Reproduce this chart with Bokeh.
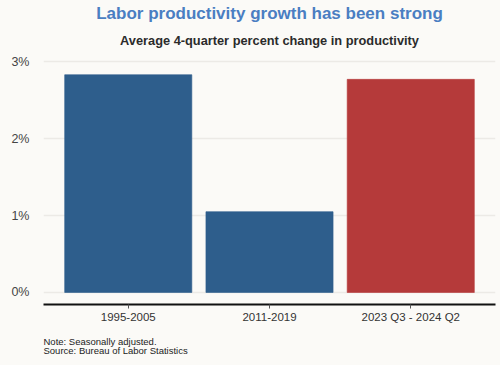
from bokeh.plotting import figure
from bokeh.models import Title, FixedTicker, ColumnDataSource, Range1d
from bokeh.embed import file_html
from bokeh.resources import INLINE

categories = ["1995-2005", "2011-2019", "2023 Q3 - 2024 Q2"]
values = [2.83, 1.05, 2.77]
colors = ["#2E5E8C", "#2E5E8C", "#B53A3A"]
y_ticks = [0, 1, 2, 3]
y_tick_labels = ["0%", "1%", "2%", "3%"]

xs = list(range(len(categories)))
src = ColumnDataSource(dict(x=xs, top=values, color=colors))

BG = "#FBFAF7"
p = figure(width=500, height=365, output_backend="svg", toolbar_location=None,
           x_range=Range1d(-0.6, 2.6), y_range=Range1d(-0.156, 3.08),
           background_fill_color=BG, border_fill_color=BG,
           min_border_left=43, min_border_right=5, min_border_top=55, min_border_bottom=61,
           outline_line_color=None, title=None)

p.vbar(x="x", top="top", bottom=0, width=0.9, source=src, fill_color="color",
       line_color="color", line_alpha=0.6, line_width=1)

# titles (first added is closest to the frame)
sub = Title(text="Average 4-quarter percent change in productivity", align="center",
            text_font="Liberation Sans", text_font_size="12.8px", text_font_style="bold",
            text_color="#2B2B2B", standoff=16)
p.add_layout(sub, "above")
main = Title(text="Labor productivity growth has been strong", align="center",
             text_font="Liberation Sans", text_font_size="17px", text_font_style="bold",
             text_color="#4A7EC2", standoff=0)
p.add_layout(main, "above")

notes = Title(text="Note: Seasonally adjusted.\nSource: Bureau of Labor Statistics", align="left",
              text_font="Liberation Sans", text_font_size="9.5px", text_font_style="normal",
              text_color="#222222", standoff=17, text_line_height=0.85)
p.add_layout(notes, "below")

# y axis
p.yaxis.ticker = FixedTicker(ticks=y_ticks)
p.yaxis.major_label_overrides = {t: l for t, l in zip(y_ticks, y_tick_labels)}
p.yaxis.axis_line_color = None
p.yaxis.major_tick_line_color = None
p.yaxis.major_tick_in = 0
p.yaxis.major_tick_out = 0
p.yaxis.minor_tick_line_color = None
p.yaxis.minor_tick_out = 0
p.yaxis.major_label_text_font = "Liberation Sans"
p.yaxis.major_label_text_font_size = "12.5px"
p.yaxis.major_label_text_color = "#444444"
p.yaxis.major_label_standoff = 14

# x axis
p.xaxis.ticker = FixedTicker(ticks=xs)
p.xaxis.major_label_overrides = {i: c for i, c in zip(xs, categories)}
p.xaxis.axis_line_color = "#111111"
p.xaxis.axis_line_width = 2
p.xaxis.major_tick_line_color = "#555555"
p.xaxis.major_tick_in = 0
p.xaxis.major_tick_out = 4
p.xaxis.minor_tick_line_color = None
p.xaxis.minor_tick_out = 0
p.xaxis.major_label_text_font = "Liberation Sans"
p.xaxis.major_label_text_font_size = "11.5px"
p.xaxis.major_label_text_color = "#333333"
p.xaxis.major_label_standoff = 2

p.xgrid.grid_line_color = None
p.ygrid.grid_line_color = "#ECEAE6"
p.ygrid.grid_line_width = 1.5

html = file_html(p, INLINE)
html = html.replace("<body>", "<body style=\"background:%s\">" % BG)
open("out.html", "w").write(html)
